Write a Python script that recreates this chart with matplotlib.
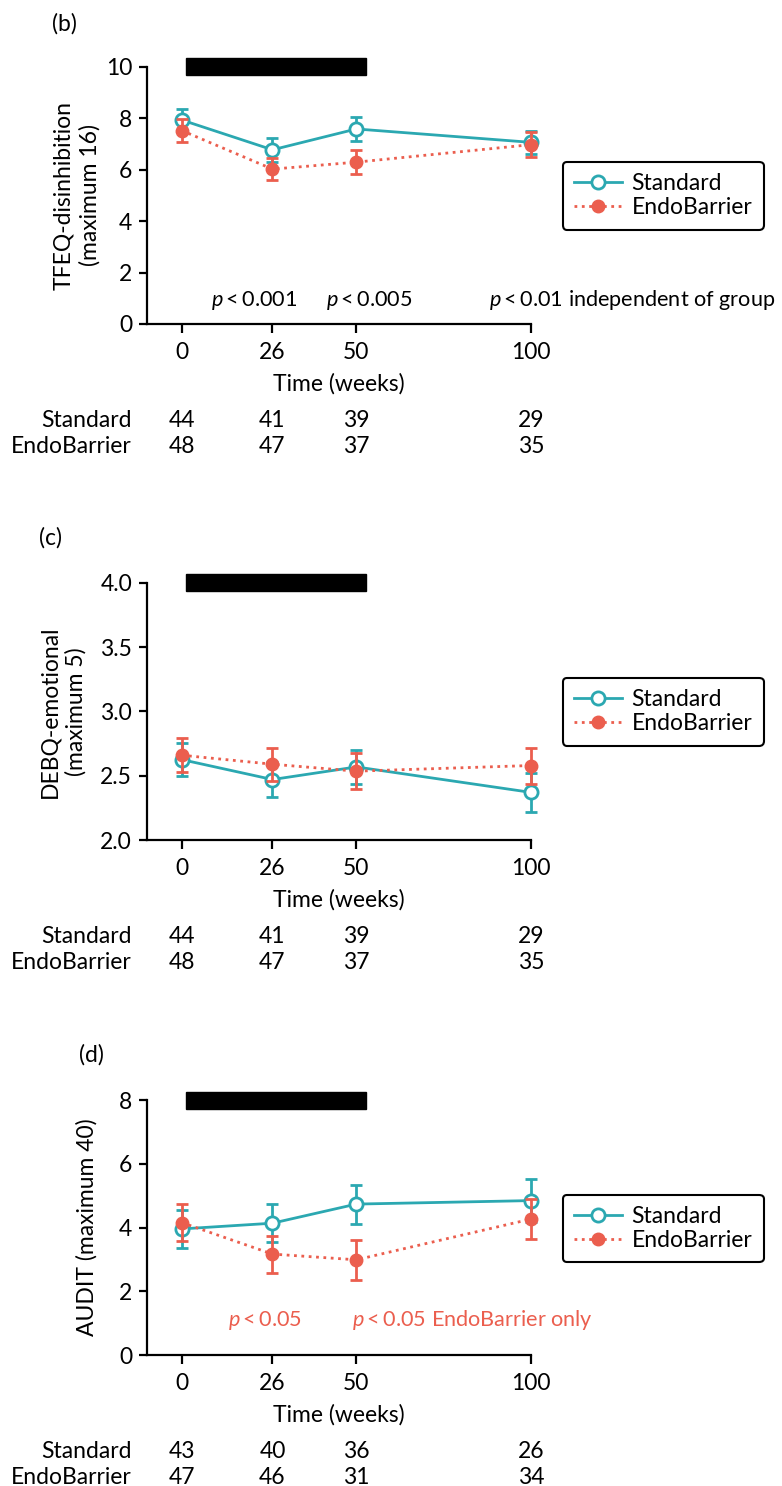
import matplotlib
matplotlib.use('Agg')
import matplotlib.pyplot as plt
import matplotlib.transforms as mtransforms
from matplotlib.lines import Line2D
from matplotlib.patches import Rectangle

FS = 16.5
PFS = 15.6  # p-value annotations are set a bit smaller
plt.rcParams['font.family'] = ['Lato', 'DejaVu Sans']
plt.rcParams['font.size'] = FS
plt.rcParams['mathtext.fontset'] = 'custom'
plt.rcParams['mathtext.it'] = 'Lato:italic'
plt.rcParams['mathtext.rm'] = 'Lato'

teal = '#2ba8b1'
red = '#eb5e4e'

# data
weeks = [0, 26, 50, 100]

b_std = [7.93, 6.77, 7.58, 7.06]
b_std_err = [0.43, 0.47, 0.45, 0.45]
b_endo = [7.52, 6.02, 6.29, 6.97]
b_endo_err = [0.44, 0.42, 0.46, 0.48]
b_n_std = [44, 41, 39, 29]
b_n_endo = [48, 47, 37, 35]

c_std = [2.625, 2.47, 2.568, 2.37]
c_std_err = [0.13, 0.135, 0.135, 0.15]
c_endo = [2.659, 2.589, 2.535, 2.579]
c_endo_err = [0.13, 0.13, 0.14, 0.14]
c_n_std = [44, 41, 39, 29]
c_n_endo = [48, 47, 37, 35]

d_std = [3.96, 4.14, 4.74, 4.85]
d_std_err = [0.6, 0.6, 0.61, 0.67]
d_endo = [4.16, 3.17, 2.99, 4.27]
d_endo_err = [0.58, 0.58, 0.63, 0.62]
d_n_std = [43, 40, 36, 26]
d_n_endo = [47, 46, 31, 34]

bar_weeks = (1.2, 52.7)  # black bar above each panel

W, H = 782, 1486
fig = plt.figure(figsize=(W / 100, H / 100), dpi=100)


def px_rect(left, right, top, bottom):
    return [left / W, 1 - bottom / H, (right - left) / W, (bottom - top) / H]


def ptext(rest):
    # italic p followed by "<"
    return r'$\it{p}\mathregular{<}$' + rest


def draw_panel(ax, std, std_err, endo, endo_err, n_std, n_endo, ylim, yticks, yfmt):
    ax.errorbar(weeks, std, yerr=std_err, color=teal, lw=2.0, marker='o', ms=9.5,
                mfc='white', mec=teal, mew=2.0, capsize=4.5, capthick=2.0, elinewidth=2.0,
                zorder=3, clip_on=False)
    ax.errorbar(weeks, endo, yerr=endo_err, color=red, lw=2.0, ls=':', marker='o', ms=9,
                mfc=red, mec=red, capsize=4.5, capthick=2.0, elinewidth=2.0,
                zorder=4, clip_on=False)

    ax.set_xlim(-10, 100)
    ax.set_ylim(*ylim)
    ax.set_xticks(weeks)
    ax.set_yticks(yticks)
    ax.set_yticklabels([yfmt.format(v) for v in yticks])
    for s in ['top', 'right']:
        ax.spines[s].set_visible(False)
    for s in ['left', 'bottom']:
        ax.spines[s].set_linewidth(1.6)
    ax.tick_params(axis='both', width=1.6, labelsize=FS)
    ax.tick_params(axis='y', length=6, pad=4.5)
    ax.tick_params(axis='x', length=6.8, pad=6)

    # treatment bar
    trans = mtransforms.blended_transform_factory(ax.transData, ax.transAxes)
    ax.add_patch(Rectangle((bar_weeks[0], 0.966), bar_weeks[1] - bar_weeks[0], 0.068,
                           transform=trans, color='black', clip_on=False, zorder=5))

    # x label and numbers at risk
    ax.annotate('Time (weeks)', xy=(0.5, 0), xycoords='axes fraction',
                xytext=(0, -67), textcoords='offset pixels', ha='center', va='baseline',
                fontsize=FS)
    for lab, nums, dy in [('Standard', n_std, -103), ('EndoBarrier', n_endo, -129)]:
        ax.annotate(lab, xy=(0, 0), xycoords='axes fraction', xytext=(-15, dy),
                    textcoords='offset pixels', ha='right', va='baseline', fontsize=FS)
        for x, n in zip(weeks, nums):
            ax.annotate(str(n), xy=(x, 0), xycoords=('data', 'axes fraction'),
                        xytext=(0, dy), textcoords='offset pixels', ha='center',
                        va='baseline', fontsize=FS)

    handles = [Line2D([], [], color=teal, lw=2.0, marker='o', ms=9.5, mfc='white',
                      mec=teal, mew=2.0),
               Line2D([], [], color=red, lw=2.0, ls=':', marker='o', ms=9, mfc=red,
                      mec=red)]
    leg = ax.legend(handles, ['Standard', 'EndoBarrier'], loc='upper left',
                    bbox_to_anchor=(1.083, 0.63), borderaxespad=0, fontsize=FS,
                    handlelength=2.1, handletextpad=0.4, labelspacing=0.12,
                    borderpad=0.5, frameon=True, fancybox=True, framealpha=1)
    leg.get_frame().set_edgecolor('black')
    leg.get_frame().set_linewidth(1.5)


# (b)
ax_b = fig.add_axes(px_rect(146.7, 531, 66.7, 324))
draw_panel(ax_b, b_std, b_std_err, b_endo, b_endo_err, b_n_std, b_n_endo,
           (0, 10), [0, 2, 4, 6, 8, 10], '{:.0f}')
ax_b.text(-0.181, 0.5, 'TFEQ-disinhibition\n(maximum 16)', transform=ax_b.transAxes,
          rotation=90, ha='center', va='center', multialignment='center', fontsize=FS,
          linespacing=1.3)
ax_b.text(8.4, 0.7, ptext('0.001'), ha='left', va='baseline', fontsize=PFS)
ax_b.text(41.3, 0.7, ptext('0.005'), ha='left', va='baseline', fontsize=PFS)
ax_b.text(88, 0.7, ptext('0.01 independent of group'), ha='left', va='baseline',
          fontsize=PFS)
fig.text(64 / W, 1 - 24 / H, '(b)', ha='center', va='center', fontsize=FS)

# (c)
ax_c = fig.add_axes(px_rect(146.7, 531, 582.7, 840))
draw_panel(ax_c, c_std, c_std_err, c_endo, c_endo_err, c_n_std, c_n_endo,
           (2.0, 4.0), [2.0, 2.5, 3.0, 3.5, 4.0], '{:.1f}')
ax_c.text(-0.218, 0.5, 'DEBQ-emotional\n(maximum 5)', transform=ax_c.transAxes,
          rotation=90, ha='center', va='center', multialignment='center', fontsize=FS,
          linespacing=1.3)
fig.text(50 / W, 1 - 538 / H, '(c)', ha='center', va='center', fontsize=FS)

# (d)
ax_d = fig.add_axes(px_rect(146.7, 531, 1100.3, 1355))
draw_panel(ax_d, d_std, d_std_err, d_endo, d_endo_err, d_n_std, d_n_endo,
           (0, 8), [0, 2, 4, 6, 8], '{:.0f}')
ax_d.text(-0.155, 0.5, 'AUDIT (maximum 40)', transform=ax_d.transAxes,
          rotation=90, ha='center', va='center', fontsize=FS)
ax_d.text(13.3, 0.91, ptext('0.05'), ha='left', va='baseline', fontsize=PFS, color=red)
ax_d.text(48.8, 0.91, ptext('0.05 EndoBarrier only'), ha='left', va='baseline',
          fontsize=PFS, color=red)
fig.text(91 / W, 1 - 1055 / H, '(d)', ha='center', va='center', fontsize=FS)

fig.savefig('out.png', dpi=100, facecolor='white')
